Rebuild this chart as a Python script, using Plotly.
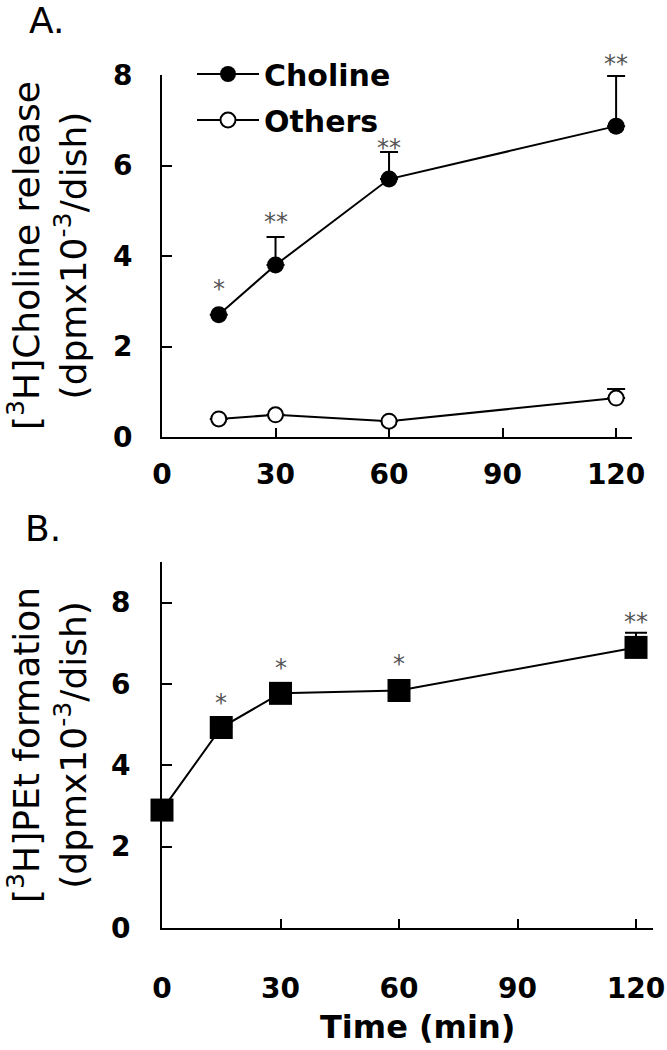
import plotly.graph_objects as go

# ---- data ----
time_A = [15, 30, 60, 120]
choline = [2.70, 3.80, 5.70, 6.87]
choline_err = [0.0, 0.62, 0.60, 1.11]
others = [0.40, 0.49, 0.35, 0.86]
others_err = [0.0, 0.0, 0.0, 0.20]
sig_A = ["*", "**", "**", "**"]
sig_A_y = [3.40, 4.88, 6.52, 8.38]

time_B = [0, 15, 30, 60, 120]
pet = [2.90, 4.93, 5.77, 5.84, 6.90]
pet_err = [0.0, 0.12, 0.12, 0.0, 0.36]
sig_B_x = [15, 30, 60, 120]
sig_B = ["*", "*", "*", "**"]
sig_B_y = [5.67, 6.53, 6.65, 7.68]

x_ticks = [0, 30, 60, 90, 120]
yA_ticks = [0, 2, 4, 6, 8]
yB_ticks = [0, 2, 4, 6, 8]

W, H = 667, 1050
FONT = "DejaVu Sans"

YA_RANGE = [0, 8]
YB_RANGE = [0, 9]
YA_DOM = [1 - 437 / H, 1 - 75 / H]
YB_DOM = [1 - 928 / H, 1 - 562 / H]

fig = go.Figure()

fig.add_trace(go.Scatter(
    x=time_A, y=choline, name="Choline", mode="lines+markers",
    legendgroup="c",
    line=dict(color="black", width=2),
    marker=dict(symbol="circle", size=17, color="black"),
    error_y=dict(type="data", symmetric=False, array=choline_err,
                 arrayminus=[0] * len(choline_err), color="black",
                 thickness=2, width=9),
    cliponaxis=False, xaxis="x", yaxis="y"))
fig.add_trace(go.Scatter(
    x=time_A, y=others, name="Others", mode="lines+markers",
    legendgroup="o",
    line=dict(color="black", width=2),
    marker=dict(symbol="circle", size=15, color="white",
                line=dict(color="black", width=2)),
    error_y=dict(type="data", symmetric=False, array=others_err,
                 arrayminus=[0] * len(others_err), color="black",
                 thickness=2, width=9),
    cliponaxis=False, xaxis="x", yaxis="y"))
fig.add_trace(go.Scatter(
    x=time_B, y=pet, name="PEt", mode="lines+markers", showlegend=False,
    line=dict(color="black", width=2),
    marker=dict(symbol="square", size=23, color="black"),
    error_y=dict(type="data", symmetric=False, array=pet_err,
                 arrayminus=[0] * len(pet_err), color="black",
                 thickness=2, width=11),
    cliponaxis=False, xaxis="x2", yaxis="y2"))

tickfont = dict(family=FONT, size=28, color="black", weight="bold")
common_x = dict(tickvals=x_ticks, showline=True, linewidth=2, linecolor="black",
                ticks="inside", ticklen=9, tickwidth=2, tickcolor="black",
                showgrid=False, zeroline=False, tickfont=tickfont,
                automargin=False)
common_y = dict(showline=True, linewidth=2, linecolor="black",
                ticks="inside", ticklen=10, tickwidth=2, tickcolor="black",
                showgrid=False, zeroline=False, tickfont=tickfont,
                automargin=False)

fig.update_layout(
    width=W, height=H, margin=dict(l=0, r=0, t=0, b=0, pad=0),
    paper_bgcolor="white", plot_bgcolor="white",
    font=dict(family=FONT, color="black"),
    xaxis=dict(domain=[162 / W, 632 / W], range=[0, 124.2], anchor="y",
               ticklabelstandoff=11, **common_x),
    yaxis=dict(domain=YA_DOM, range=YA_RANGE, anchor="x",
               tickvals=yA_ticks, ticklabelstandoff=22, **common_y),
    xaxis2=dict(domain=[162 / W, 653 / W], range=[0, 124.3], anchor="y2",
                ticklabelstandoff=34, **common_x),
    yaxis2=dict(domain=YB_DOM, range=YB_RANGE, anchor="x2",
                tickvals=yB_ticks, ticklabelstandoff=24, **common_y),
    showlegend=True,
    legend=dict(x=192 / W, y=1 - 48 / H, xanchor="left", yanchor="top",
                bgcolor="rgba(0,0,0,0)", traceorder="grouped",
                itemwidth=62,
                font=dict(family=FONT, size=30, color="black", weight="bold"),
                tracegroupgap=4),
)


def star_ann(xv, yv, s, xref, yref, yrange, ydom):
    px_per_unit = (ydom[1] - ydom[0]) * H / (yrange[1] - yrange[0])
    ya = min(yv, yrange[1])
    return dict(x=xv, y=ya, xref=xref, yref=yref, text=s, showarrow=False,
                yanchor="middle", yshift=-6 + (yv - ya) * px_per_unit,
                font=dict(family=FONT, size=24, color="#555"))


ann = []
for xv, s, yv in zip(time_A, sig_A, sig_A_y):
    ann.append(star_ann(xv, yv, s, "x", "y", YA_RANGE, YA_DOM))
for xv, s, yv in zip(sig_B_x, sig_B, sig_B_y):
    ann.append(star_ann(xv, yv, s, "x2", "y2", YB_RANGE, YB_DOM))

ann += [
    dict(x=47 / W, y=1 - 256 / H, xref="paper", yref="paper", textangle=-90,
         text="[<sup>3</sup>H]Choline release<br>(dpmx10<sup>-3</sup>/dish)",
         showarrow=False, xanchor="center", yanchor="middle",
         font=dict(family=FONT, size=36, color="black")),
    dict(x=47 / W, y=1 - 745 / H, xref="paper", yref="paper", textangle=-90,
         text="[<sup>3</sup>H]PEt formation<br>(dpmx10<sup>-3</sup>/dish)",
         showarrow=False, xanchor="center", yanchor="middle",
         font=dict(family=FONT, size=36, color="black")),
    dict(x=417 / W, y=1 - 1027 / H, xref="paper", yref="paper",
         text="Time (min)", showarrow=False, xanchor="center", yanchor="middle",
         font=dict(family=FONT, size=32, color="black", weight="bold")),
    dict(x=46 / W, y=1 - 20 / H, xref="paper", yref="paper", text="A.",
         showarrow=False, xanchor="center", yanchor="middle",
         font=dict(family=FONT, size=36, color="black")),
    dict(x=43 / W, y=1 - 528 / H, xref="paper", yref="paper", text="B.",
         showarrow=False, xanchor="center", yanchor="middle",
         font=dict(family=FONT, size=36, color="black")),
]
fig.update_layout(annotations=ann)

fig.write_html("out.html", config={"displayModeBar": False},
               post_script="document.body.style.margin='0';"
                           "document.body.style.padding='0';")
